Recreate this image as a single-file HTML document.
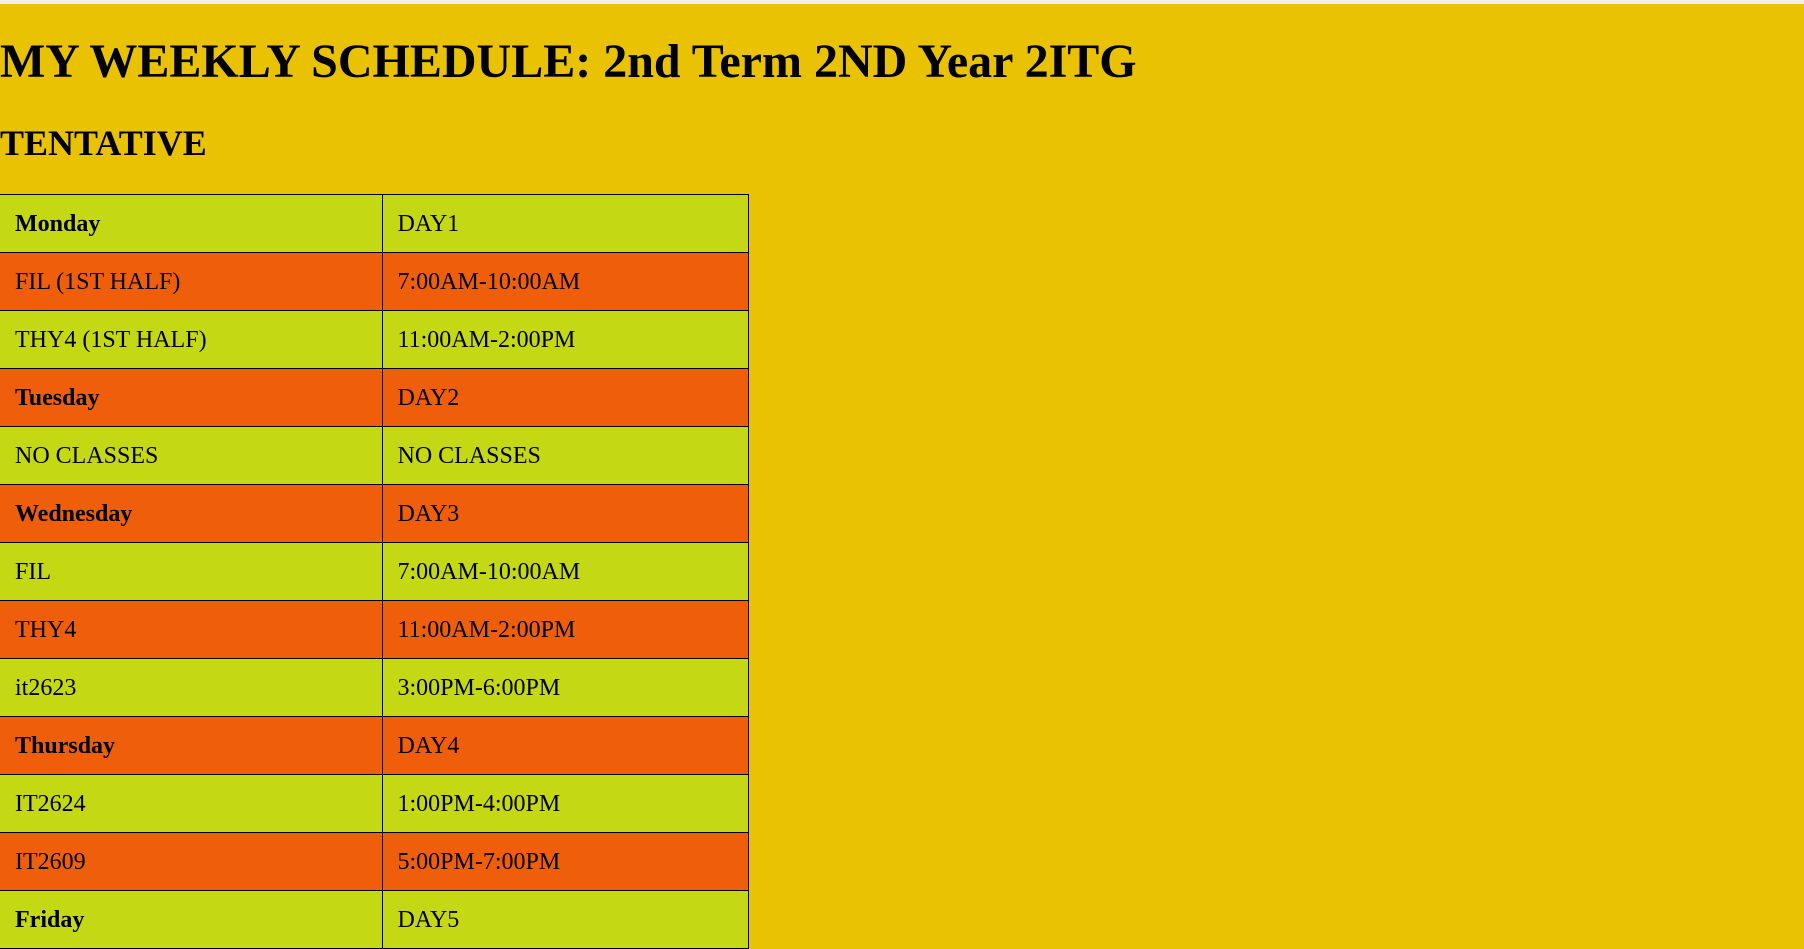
<!DOCTYPE html>
<html><head><meta charset="utf-8"><style>
html,body{margin:0;padding:0;width:1804px;height:889px;overflow:hidden;background:#E9C204;font-family:"Liberation Serif",serif;color:#000}
#strip{position:absolute;left:0;top:0;width:1804px;height:4px;background:#eeeeee}
h1{position:absolute;left:0;top:32px;margin:0;font-size:48px;line-height:60px;font-weight:bold;white-space:nowrap}
h2{position:absolute;left:0;top:121px;margin:0;font-size:36px;line-height:44px;font-weight:bold}
table{position:absolute;left:0;top:194px;border-collapse:collapse;width:749px}
td{border:1px solid #000;height:58px;padding:2px 0 0 15px;font-size:24px;vertical-align:middle;box-sizing:border-box}
td:first-child{width:382px;border-left:none}
tr.g td{background:#C4D813}
tr.o td{background:#EF5E0A}
b{font-weight:bold}
</style></head><body>
<div id="strip"></div>
<h1>MY WEEKLY SCHEDULE: 2nd Term 2ND Year 2ITG</h1>
<h2>TENTATIVE</h2>
<table>
<tr class="g"><td><b>Monday</b></td><td>DAY1</td></tr>
<tr class="o"><td>FIL (1ST HALF)</td><td>7:00AM-10:00AM</td></tr>
<tr class="g"><td>THY4 (1ST HALF)</td><td>11:00AM-2:00PM</td></tr>
<tr class="o"><td><b>Tuesday</b></td><td>DAY2</td></tr>
<tr class="g"><td>NO CLASSES</td><td>NO CLASSES</td></tr>
<tr class="o"><td><b>Wednesday</b></td><td>DAY3</td></tr>
<tr class="g"><td>FIL</td><td>7:00AM-10:00AM</td></tr>
<tr class="o"><td>THY4</td><td>11:00AM-2:00PM</td></tr>
<tr class="g"><td>it2623</td><td>3:00PM-6:00PM</td></tr>
<tr class="o"><td><b>Thursday</b></td><td>DAY4</td></tr>
<tr class="g"><td>IT2624</td><td>1:00PM-4:00PM</td></tr>
<tr class="o"><td>IT2609</td><td>5:00PM-7:00PM</td></tr>
<tr class="g"><td><b>Friday</b></td><td>DAY5</td></tr>
</table>
</body></html>
